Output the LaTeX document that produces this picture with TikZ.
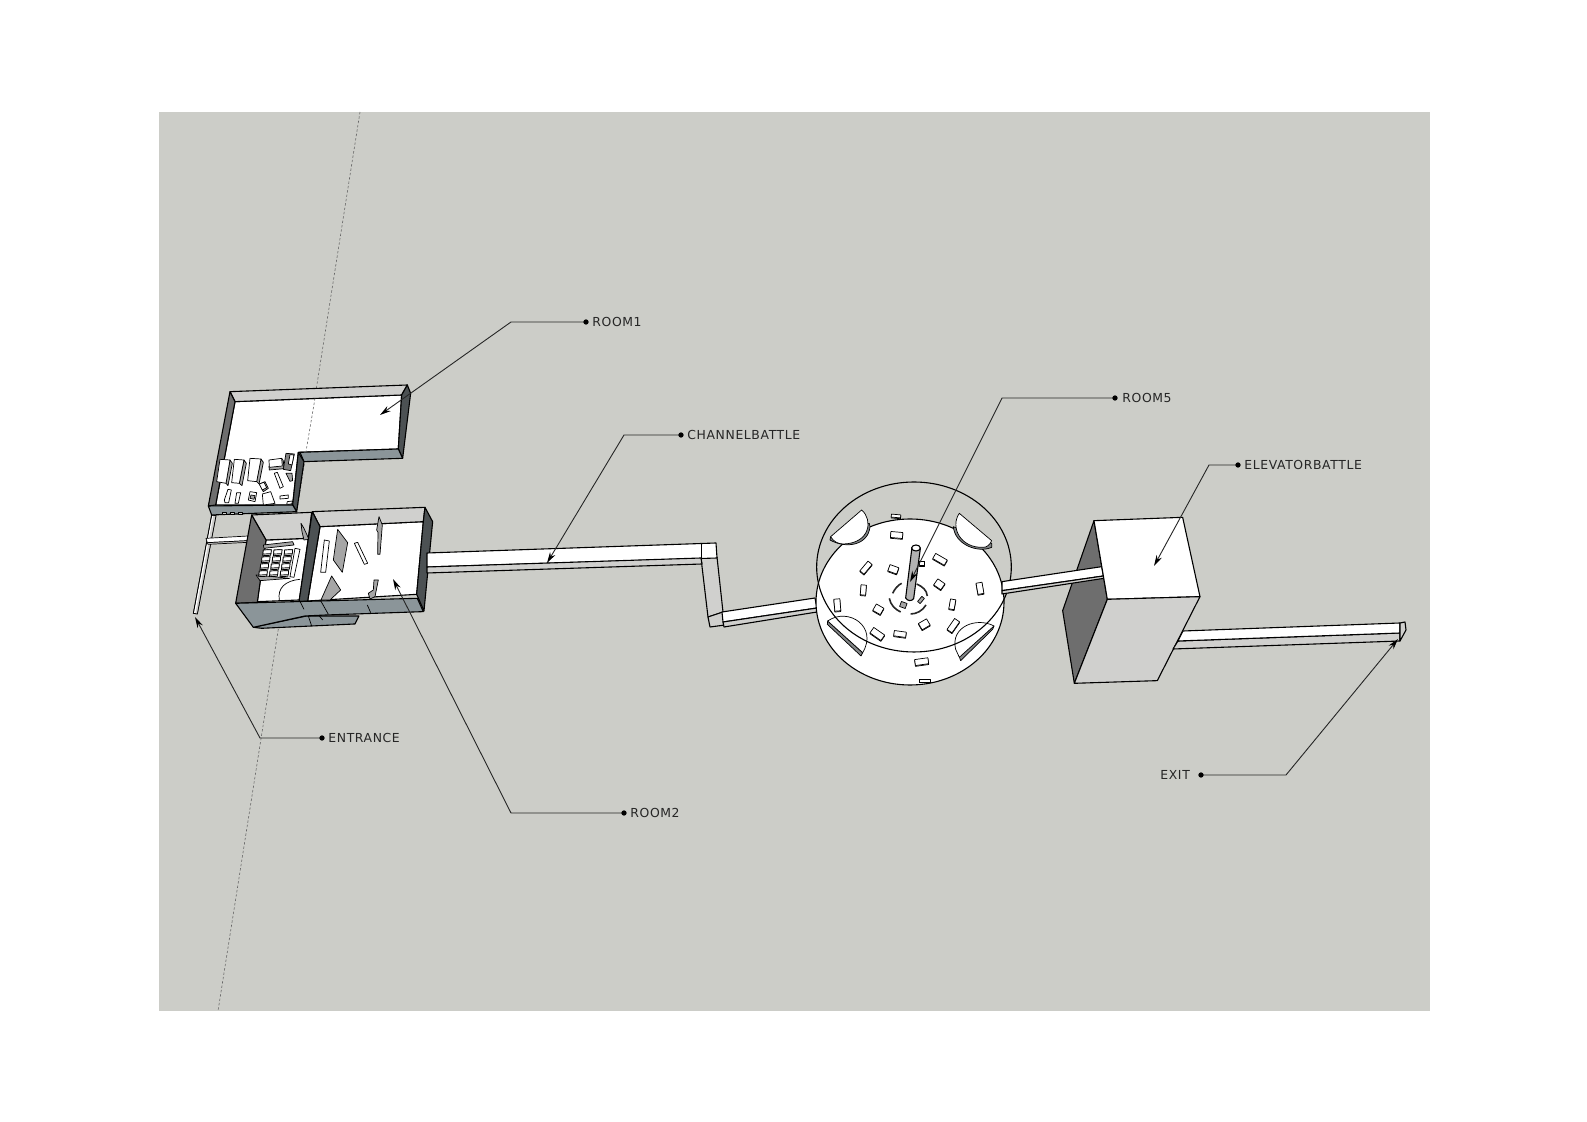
\documentclass[tikz,border=0pt]{standalone}
\usepackage{fontspec}
\setmainfont[LetterSpace=5]{DejaVu Sans}
\usetikzlibrary{arrows.meta}
\definecolor{paper}{HTML}{CCCDC8}
\definecolor{sidewall}{HTML}{6E6E6E}
\definecolor{darkwall}{HTML}{4C5153}
\definecolor{frontwall}{HTML}{8B9599}
\definecolor{backwall}{HTML}{D0D0CE}
\tikzset{
    edge/.style={draw=black,line width=0.55pt,line join=round},
    thinedge/.style={draw=black,line width=0.35pt,line join=round},
    floorface/.style={edge,fill=white},
    backface/.style={edge,fill=backwall},
    sideface/.style={edge,fill=sidewall},
    darkface/.style={edge,fill=darkwall},
    frontface/.style={edge,fill=frontwall},
    itemface/.style={thinedge,fill=white},
    shadeface/.style={thinedge,fill=gray!70},
    rimface/.style={thinedge,fill=darkwall!70},
    axisline/.style={black!60,line width=0.3pt,dash pattern=on 1.2pt off 1pt},
    leader/.style={draw=black!85,line width=0.45pt,shorten <=-1.3pt,{Circle[length=2.6pt,black]}-{Stealth[length=5.5pt,width=3pt,black]}},
    maplabel/.style={anchor=west,inner sep=0pt,font=\fontsize{6.2}{7}\selectfont,text=black!85},
}
\begin{document}
\begin{tikzpicture}[x=0.5pt,y=-0.5pt]
    \useasboundingbox (0,0) rectangle (1587,1122);
    \fill[white] (0,0) rectangle (1587,1122);
    \fill[paper] (159,112) rectangle (1430,1011);
    \draw[axisline] (360,112) -- (218,1011);

    % entrance corridor
    \begin{scope}[shift={(180,500)},scale=0.3333]
        \draw[itemface] (95,45) -- (108,47) -- (52,342) -- (40,340) -- cycle;
        \fill[backwall] (100,47) -- (108,47) -- (52,342) -- (46,341) -- cycle;
        \draw[thinedge] (95,45) -- (108,47) -- (52,342) -- (40,340) -- cycle;
        \draw[itemface] (78,115) -- (205,108) -- (205,122) -- (82,128) -- cycle;
        \draw[thinedge,fill=backwall] (82,128) -- (205,122) -- (205,127) -- (84,133) -- cycle;
    \end{scope}

    % room1
    \begin{scope}[shift={(180,370)},scale=0.3333]
        \draw[floorface] (165,95) -- (665,75) -- (655,237) -- (355,247) -- (338,405) -- (107,405) -- cycle;
        \draw[backface] (150,65) -- (682,45) -- (665,75) -- (165,95) -- cycle;
        \draw[sideface] (150,65) -- (165,95) -- (107,405) -- (85,408) -- cycle;
        \draw[darkface] (682,45) -- (692,70) -- (668,265) -- (655,237) -- (665,75) -- cycle;
        \draw[frontface] (360,247) -- (655,237) -- (668,265) -- (372,275) -- cycle;
        \draw[darkface] (355,247) -- (372,275) -- (350,425) -- (338,405) -- cycle;
        \draw[frontface] (85,408) -- (338,405) -- (350,425) -- (95,435) -- cycle;
        \draw[axisline] (405,85) -- (378,245);
        \foreach \sx in {132,155,180} {
            \draw[thinedge,fill=backwall] (\sx-5,426) rectangle (\sx+7,434);
        }
    \end{scope}

    % room1 furniture
    \begin{scope}[shift={(200,440)},scale=0.3333]
        \draw[shadeface] (90,60) -- (97,70) -- (84,137) -- (78,130) -- cycle;
        \draw[itemface] (60,58) -- (90,60) -- (78,130) -- (50,125) -- cycle;
        \draw[shadeface] (132,60) -- (139,70) -- (126,137) -- (118,130) -- cycle;
        \draw[itemface] (103,58) -- (132,60) -- (118,130) -- (95,128) -- cycle;
        \draw[shadeface] (183,57) -- (190,67) -- (177,132) -- (170,125) -- cycle;
        \draw[itemface] (150,55) -- (183,57) -- (170,125) -- (143,122) -- cycle;
        \draw[shadeface] (245,55) -- (250,62) -- (252,86) -- (208,90) -- (207,80) -- cycle;
        \draw[itemface] (207,60) -- (245,55) -- (247,78) -- (208,82) -- cycle;
        \draw[itemface] (223,100) -- (232,97) -- (250,140) -- (240,145) -- cycle;
        \draw[shadeface] (178,132) -- (195,125) -- (205,145) -- (190,155) -- cycle;
        \draw[itemface] (178,132) -- (192,127) -- (200,143) -- (187,150) -- cycle;
        \draw[itemface] (150,155) -- (170,158) -- (165,185) -- (145,180) -- cycle;
        \draw[shadeface] (153,165) -- (165,167) -- (162,178) -- (150,175) -- cycle;
        \draw[itemface] (84,148) -- (94,150) -- (86,188) -- (75,188) -- (73,180) -- cycle;
        \draw[itemface] (110,158) -- (122,158) -- (115,190) -- (105,190) -- cycle;
        \draw[itemface] (187,162) -- (212,155) -- (225,190) -- (190,195) -- cycle;
        \draw[itemface] (240,168) -- (265,165) -- (265,175) -- (240,177) -- cycle;
        \draw[itemface] (262,185) -- (278,183) -- (275,192) -- (260,193) -- cycle;
        \draw[shadeface] (258,100) -- (276,100) -- (278,122) -- (270,124) -- cycle;
        \draw[thinedge,fill=gray] (258,40) -- (283,42) -- (272,92) -- (250,88) -- cycle;
        \draw[itemface] (270,44) -- (282,45) -- (276,75) -- (265,72) -- cycle;
    \end{scope}

    % left half of room2
    \begin{scope}[shift={(180,370)},scale=0.3333]
        \draw[floorface] (258,510) -- (385,505) -- (358,690) -- (232,695) -- cycle;
        \draw[backface] (215,435) -- (395,427) -- (385,505) -- (258,510) -- cycle;
        \draw[sideface] (215,435) -- (258,510) -- (232,697) -- (167,700) -- cycle;
        \draw[thinedge] (298,690) .. controls (292,655) and (315,632) .. (360,628);
    \end{scope}

    % desks in left half
    \begin{scope}[shift={(180,500)},scale=0.3333]
        \draw[shadeface] (250,135) -- (338,125) -- (342,135) -- (252,145) -- cycle;
        \draw[shadeface] (228,225) -- (330,235) -- (240,242) -- cycle;
        \foreach \i in {0,1,2} {
            \foreach \j in {0,1,2,3} {
                \draw[thinedge,fill=gray!45] (250+\i*32-\j*4,150+\j*21) -- ++(24,-1) -- ++(-2,17) -- ++(-24,1) -- cycle;
                \draw[itemface] (250+\i*32-\j*4,150+\j*21) -- ++(24,-1) -- ++(-1,12) -- ++(-24,1) -- cycle;
            }
        }
        \draw[itemface] (345,145) -- (360,148) -- (342,232) -- (330,230) -- cycle;
        \draw[shadeface] (363,70) -- (372,85) -- (387,118) -- (372,120) -- (366,95) -- cycle;
    \end{scope}

    % room2
    \begin{scope}[shift={(295,495)},scale=0.3333]
        \draw[floorface] (75,95) -- (385,80) -- (365,298) -- (38,318) -- cycle;
        \draw[backface] (52,50) -- (390,37) -- (385,80) -- (75,95) -- cycle;
        \draw[darkface] (390,37) -- (413,80) -- (387,348) -- (365,298) -- (385,80) -- cycle;
        \draw[darkface] (52,50) -- (75,95) -- (38,318) -- (12,320) -- cycle;
        \draw[itemface] (88,135) -- (103,138) -- (92,232) -- (77,232) -- cycle;
        \draw[shadeface] (128,103) -- (158,143) -- (142,232) -- (115,195) -- cycle;
        \draw[itemface] (178,145) -- (188,142) -- (218,205) -- (208,208) -- cycle;
        \draw[shadeface] (252,65) -- (262,90) -- (255,178) -- (248,178) -- (249,112) -- (245,105) -- cycle;
        \draw[shadeface] (110,243) -- (137,285) -- (105,315) -- (78,315) -- cycle;
        \draw[shadeface] (237,255) -- (250,255) -- (240,305) -- (225,312) -- (220,295) -- (235,285) -- cycle;
    \end{scope}

    % front of room2 and ramp below
    \begin{scope}[shift={(180,370)},scale=0.3333]
        \draw[frontface] (380,738) -- (537,738) -- (525,762) -- (245,775) -- (220,772) -- cycle;
        \draw[frontface] (167,700) -- (712,685) -- (730,725) -- (440,735) -- (375,738) -- (220,772) -- cycle;
        \draw[thinedge] (358,690) -- (372,718);
        \draw[thinedge] (422,692) -- (445,733);
        \draw[thinedge] (562,705) -- (572,728);
        \draw[thinedge] (385,738) -- (395,768);
        \draw[thinedge] (418,738) -- (428,750);
    \end{scope}

    % channel battle corridor
    \draw[backface] (701,558) -- (717,557) -- (723,612) -- (708,617) -- cycle;
    \draw[floorface] (427,553) -- (716,543) -- (717,558) -- (427,567) -- cycle;
    \draw[backface] (427,567) -- (701,558) -- (702,564) -- (427,573) -- cycle;
    \draw[thinedge] (701,543) -- (701,558);
    \draw[backface] (708,617) -- (723,612) -- (725,625) -- (710,627) -- cycle;
    \draw[floorface] (722,612) -- (815,598) -- (817,608) -- (723,622) -- cycle;
    \draw[backface] (723,622) -- (817,608) -- (817,612) -- (724,627) -- cycle;

    % room5
    \draw[edge,fill=white] (910,602) ellipse (94 and 83);
    \begin{scope}[shift={(790,490)},scale=0.3333]
        % four half discs
        \draw[rimface] (122,140) -- (120,150) .. controls (170,178) and (235,165) .. (240,110) -- (238,100) -- cycle;
        \draw[itemface] (215,60) .. controls (250,90) and (240,160) .. (160,162) .. controls (145,162) and (130,155) .. (122,140) -- cycle;
        \draw[rimface] (490,110) .. controls (495,165) and (565,190) .. (605,172) -- (605,160) -- cycle;
        \draw[itemface] (508,70) .. controls (480,110) and (510,175) .. (580,172) .. controls (590,172) and (600,165) .. (605,152) -- cycle;
        \draw[rimface] (113,393) -- (112,403) -- (213,498) -- (218,488) -- cycle;
        \draw[itemface] (113,393) .. controls (175,350) and (265,410) .. (218,488) -- cycle;
        \draw[rimface] (612,408) -- (608,418) -- (512,512) -- (508,500) -- cycle;
        \draw[itemface] (612,408) .. controls (560,380) and (480,410) .. (497,478) -- (508,502) -- cycle;
        % blocks on the floor
        \foreach \bx/\by/\bw/\bh/\ba in {320/135/36/18/5,450/208/40/18/30,228/233/38/16/-50,310/238/28/20/20,220/300/16/30/5,448/283/26/22/35,570/295/18/34/-10,142/345/18/36/-5,265/358/26/22/30,487/343/16/30/10,403/403/28/22/-30,490/407/18/40/35,262/432/40/20/35,330/432/36/16/8,395/515/40/18/-8,318/78/28/9/5,395/220/14/14/0,405/572/32/8/0} {
            \draw[thinedge,fill=gray!60,rotate around={-\ba:(\bx,\by+2.5)}] (\bx-\bw/2,\by+2.5-\bh/2) rectangle (\bx+\bw/2,\by+2.5+\bh/2);
            \draw[thinedge,fill=white,rotate around={-\ba:(\bx,\by)}] (\bx-\bw/2,\by-\bh/2) rectangle (\bx+\bw/2,\by+\bh/2);
        }
        \draw[shadeface,rotate around={-20:(340,345)}] (331,337) rectangle (349,353);
        \draw[shadeface,rotate around={-40:(393,330)}] (388,320) rectangle (398,340);
        % ring round the pole
        \draw[line width=0.8pt,black!85] (308,310) .. controls (315,295) and (325,285) .. (335,280);
        \draw[line width=0.8pt,black!85] (380,282) .. controls (398,290) and (410,300) .. (412,318);
        \draw[line width=0.8pt,black!85] (408,345) .. controls (398,362) and (380,372) .. (362,372);
        \draw[line width=0.8pt,black!85] (332,366) .. controls (315,358) and (302,345) .. (298,325);
        % pole
        \draw[edge,fill=gray!60] (366,172) -- (391,176) -- (371,326) .. controls (366,334) and (352,334) .. (347,324) -- cycle;
        \draw[edge,fill=white] (378,174) ellipse (13 and 9);
        % outer ring
        \draw[edge] (372,231) ellipse (292 and 255);
    \end{scope}

    % elevator box
    \begin{scope}[shift={(1040,500)},scale=0.3333]
        \draw[sideface] (162,62) -- (202,298) -- (103,550) -- (68,332) -- cycle;
        \draw[floorface] (-114,245) -- (185,200) -- (190,228) -- (-114,272) -- cycle;
        \draw[backface] (-114,272) -- (190,228) -- (192,235) -- (-114,282) -- cycle;
        \draw[floorface] (162,62) -- (428,52) -- (480,290) -- (202,298) -- cycle;
        \draw[edge,fill=backwall] (202,298) -- (480,290) -- (352,542) -- (103,550) -- cycle;
    \end{scope}

    % exit corridor
    \draw[backface] (1173,649) -- (1400,641) -- (1400,633) -- (1178,641) -- cycle;
    \draw[floorface] (1183,631) -- (1400,623) -- (1400,633) -- (1178,641) -- cycle;
    \draw[backface] (1400,623) -- (1405,622) -- (1406,630) -- (1400,641) -- cycle;

    % labels
    \coordinate (dotroom1) at (586,322);
    \coordinate (bendroom1) at (511,322);
    \coordinate (tiproom1) at (380,415);
    \node[maplabel] (room1) at (592,322) {ROOM1};
    \draw[leader] (dotroom1) -- (bendroom1) -- (tiproom1);

    \coordinate (dotchannel) at (681,435);
    \coordinate (bendchannel) at (624,435);
    \coordinate (tipchannel) at (547,563);
    \node[maplabel] (channelbattle) at (687,435) {CHANNELBATTLE};
    \draw[leader] (dotchannel) -- (bendchannel) -- (tipchannel);

    \coordinate (dotroom5) at (1115,398);
    \coordinate (bendroom5) at (1002,398);
    \coordinate (tiproom5) at (910,582);
    \node[maplabel] (room5) at (1122,398) {ROOM5};
    \draw[leader] (dotroom5) -- (bendroom5) -- (tiproom5);

    \coordinate (dotelevator) at (1238,465);
    \coordinate (bendelevator) at (1209,465);
    \coordinate (tipelevator) at (1154,566);
    \node[maplabel] (elevatorbattle) at (1244,465) {ELEVATORBATTLE};
    \draw[leader] (dotelevator) -- (bendelevator) -- (tipelevator);

    \coordinate (dotexit) at (1201,775);
    \coordinate (bendexit) at (1286,775);
    \coordinate (tipexit) at (1398,639);
    \node[maplabel] (exit) at (1160,775) {EXIT};
    \draw[leader] (dotexit) -- (bendexit) -- (tipexit);

    \coordinate (dotentrance) at (322,738);
    \coordinate (bendentrance) at (260,738);
    \coordinate (tipentrance) at (195,617);
    \node[maplabel] (entrance) at (328,738) {ENTRANCE};
    \draw[leader] (dotentrance) -- (bendentrance) -- (tipentrance);

    \coordinate (dotroom2) at (624,813);
    \coordinate (bendroom2) at (511,813);
    \coordinate (tiproom2) at (393,579);
    \node[maplabel] (room2) at (630,813) {ROOM2};
    \draw[leader] (dotroom2) -- (bendroom2) -- (tiproom2);
\end{tikzpicture}
\end{document}
